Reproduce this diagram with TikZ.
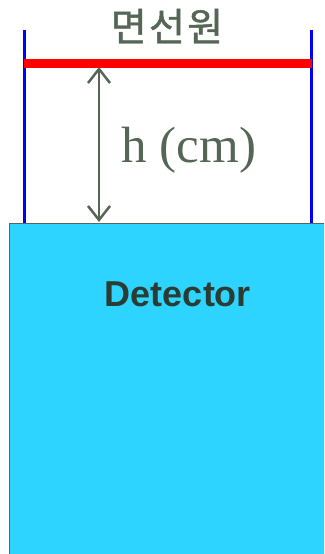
\documentclass[tikz,border=0pt]{standalone}
\usepackage{fontspec}
\usepackage{xcolor}
\usepackage{tikz}
\usetikzlibrary{arrows.meta, positioning}
\setmainfont{Liberation Serif}
\newfontfamily\korfont{Noto Sans CJK KR}[FakeBold=1.2, LetterSpace=6]
\newfontfamily\detfont{Liberation Sans}

\definecolor{graygreen}{HTML}{556655}
\definecolor{detcyan}{HTML}{2CD4FF}
\definecolor{detdark}{HTML}{2B3D33}

\begin{document}
\begin{tikzpicture}[x=1pt, y=1pt]

\useasboundingbox (0,0) rectangle (324,554);
\clip (0,0) rectangle (324,554);

% Detector block (runs off the bottom and right edges)
\node[draw=graygreen, line width=1.5pt, fill=detcyan, minimum width=330pt, minimum height=350pt, inner sep=0pt, anchor=north west] (det) at (8.5,331) {};
\node[anchor=base, font=\detfont\bfseries\fontsize{36}{40}\selectfont, text=detdark] (detlabel) at (178,247) {Detector};

% Holder posts
\coordinate (postLtop) at (24,524);
\coordinate (postLbot) at (24,331);
\coordinate (postRtop) at (311,524);
\coordinate (postRbot) at (311,331);
\draw[blue, line width=3pt] (postLtop) -- (postLbot);
\draw[blue, line width=3pt] (postRtop) -- (postRbot);

% Plane source
\coordinate (srcL) at (24,490.5);
\coordinate (srcR) at (312,490.5);
\draw[red, line width=9pt] (srcL) -- (srcR);
\node[anchor=base, font=\korfont\fontsize{39}{43}\selectfont, text=graygreen] (srcname) at (167,513) {면선원};

% Distance h
\coordinate (htop) at (99,487);
\coordinate (hbot) at (99,332);
\draw[graygreen, line width=2.5pt, {Straight Barb[length=14pt, width=22pt]}-{Straight Barb[length=14pt, width=22pt]}] (htop) -- (hbot);
\node[anchor=base, font=\fontsize{51}{56}\selectfont, text=graygreen] (hlabel) at (189,391) {h (cm)};

\end{tikzpicture}
\end{document}
